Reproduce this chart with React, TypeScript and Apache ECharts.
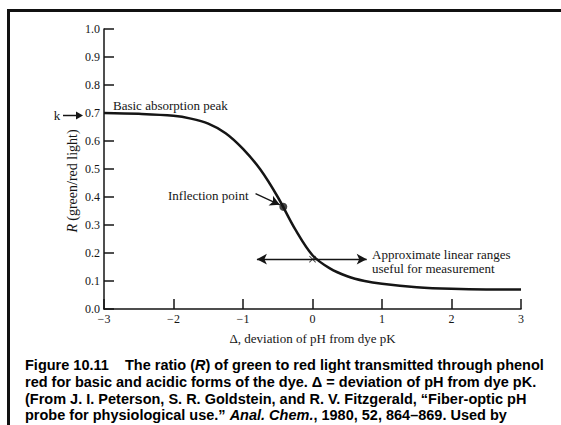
import React, { useEffect, useRef } from "react";
import * as echarts from "echarts";

// Δ (deviation of pH from dye pK) and R (green/red light)
const deltaValues = [-3, -2.5, -2, -1.75, -1.5, -1.25, -1, -0.75, -0.5, -0.25, 0, 0.25, 0.5, 0.75, 1, 1.5, 2, 2.5, 3];
const ratioValues = [0.7, 0.697, 0.69, 0.68, 0.662, 0.628, 0.572, 0.498, 0.4, 0.285, 0.192, 0.145, 0.117, 0.1, 0.09, 0.078, 0.072, 0.07, 0.07];

const inflectionPoint = [-0.42, 0.365];
const linearRangeStart = -0.8;
const linearRangeEnd = 0.78;
const linearRangeLevel = 0.178;
const linearRangeCenter = 0;

const xTicks = { min: -3, max: 3, interval: 1 };
const yTicks = { min: 0, max: 1, interval: 0.1 };

const captionLines = [
  "{b|Figure 10.11    The ratio (}{bi|R}{b|) of green to red light transmitted through phenol}",
  "{b|red for basic and acidic forms of the dye. Δ = deviation of pH from dye pK.}",
  "{b|(From J. I. Peterson, S. R. Goldstein, and R. V. Fitzgerald, “Fiber-optic pH}",
  "{b|probe for physiological use.” }{bi|Anal. Chem.}{b|, 1980, 52, 864–869. Used by}",
  "{b|permission.)}",
];
const captionY = [365, 382, 398.5, 415, 431.5];

const SERIF = "'Liberation Serif', 'Times New Roman', serif";
const SANS = "'Liberation Sans', Arial, sans-serif";

export default function App() {
  const ref = useRef<HTMLDivElement>(null);
  useEffect(() => {
    if (!ref.current) return;
    const chart = echarts.init(ref.current, undefined, { renderer: "svg" });
    const curve = deltaValues.map((d, i) => [d, ratioValues[i]]);
    const ink = "#151515";
    const capRich = {
      b: { fontFamily: SANS, fontWeight: "bold", fontSize: 14.5, fill: "#000" },
      bi: { fontFamily: SANS, fontWeight: "bold", fontStyle: "italic", fontSize: 14.5, fill: "#000" },
    };
    chart.setOption({
      animation: false,
      backgroundColor: "#fff",
      grid: { left: 104, right: 40, top: 29, bottom: 116 },
      xAxis: {
        type: "value",
        min: xTicks.min,
        max: xTicks.max,
        interval: xTicks.interval,
        name: "Δ, deviation of pH from dye pK",
        nameLocation: "middle",
        nameGap: 23,
        nameTextStyle: { fontFamily: SERIF, fontSize: 13, color: ink },
        axisLine: { onZero: false, lineStyle: { color: ink, width: 1.5 } },
        axisTick: { inside: true, length: 10, lineStyle: { color: ink, width: 1.5 } },
        axisLabel: {
          fontFamily: SERIF,
          fontSize: 12,
          color: ink,
          margin: 4,
          formatter: (v: number) => (v < 0 ? "−" + Math.abs(v) : String(v)),
        },
        splitLine: { show: false },
      },
      yAxis: {
        type: "value",
        min: yTicks.min,
        max: yTicks.max,
        interval: yTicks.interval,
        axisLine: { show: true, onZero: false, lineStyle: { color: ink, width: 1.5 } },
        axisTick: { show: true, inside: true, length: 10, lineStyle: { color: ink, width: 1.5 } },
        axisLabel: {
          fontFamily: SERIF,
          fontSize: 12,
          color: ink,
          margin: 4,
          formatter: (v: number) => v.toFixed(1),
        },
        splitLine: { show: false },
      },
      series: [
        {
          type: "line",
          data: curve,
          smooth: 0.35,
          showSymbol: false,
          lineStyle: { color: ink, width: 2.5 },
          silent: true,
        },
        {
          type: "scatter",
          data: [inflectionPoint],
          symbolSize: 8,
          itemStyle: { color: ink },
          silent: true,
        },
        {
          type: "scatter",
          data: [[linearRangeCenter, linearRangeLevel]],
          symbol: "path://M0,1 L1,0 L5,4 L9,0 L10,1 L6,5 L10,9 L9,10 L5,6 L1,10 L0,9 L4,5 Z",
          symbolSize: 7,
          itemStyle: { color: ink },
          silent: true,
        },
        {
          type: "line",
          data: [],
          silent: true,
          markLine: {
            silent: true,
            symbol: ["arrow", "arrow"],
            symbolSize: [8, 10],
            label: { show: false },
            lineStyle: { color: ink, width: 1.3, type: "solid" },
            data: [[{ coord: [linearRangeStart, linearRangeLevel] }, { coord: [linearRangeEnd, linearRangeLevel] }]],
          },
        },
        {
          type: "line",
          data: [],
          silent: true,
          markLine: {
            silent: true,
            symbol: ["none", "arrow"],
            symbolSize: [8, 10],
            label: { show: false },
            lineStyle: { color: ink, width: 1.3, type: "solid" },
            data: [[{ coord: [-0.82, 0.412] }, { coord: [-0.47, 0.372] }]],
          },
        },
      ],
      graphic: [
        { type: "line", shape: { x1: 7, y1: 10.5, x2: 561, y2: 10.5 }, style: { stroke: "#111", lineWidth: 3 } },
        { type: "line", shape: { x1: 8.5, y1: 9, x2: 8.5, y2: 425 }, style: { stroke: "#111", lineWidth: 3 } },
        {
          type: "text",
          x: 57,
          y: 115.5,
          style: { text: "k", fontFamily: SERIF, fontSize: 13, fill: ink, align: "center", verticalAlign: "middle" },
        },
        { type: "line", shape: { x1: 63, y1: 115.5, x2: 78, y2: 115.5 }, style: { stroke: ink, lineWidth: 1.5 } },
        { type: "polygon", shape: { points: [[76, 111.5], [83, 115.5], [76, 119.5]] }, style: { fill: ink } },
        {
          type: "text",
          x: 113,
          y: 105,
          style: { text: "Basic absorption peak", fontFamily: SERIF, fontSize: 13, fill: ink, verticalAlign: "middle" },
        },
        {
          type: "text",
          x: 168,
          y: 195,
          style: { text: "Inflection point", fontFamily: SERIF, fontSize: 13, fill: ink, verticalAlign: "middle" },
        },
        {
          type: "text",
          x: 372,
          y: 254,
          style: { text: "Approximate linear ranges", fontFamily: SERIF, fontSize: 13, fill: ink, verticalAlign: "middle" },
        },
        {
          type: "text",
          x: 372,
          y: 268,
          style: { text: "useful for measurement", fontFamily: SERIF, fontSize: 13, fill: ink, verticalAlign: "middle" },
        },
        {
          type: "text",
          x: 72,
          y: 181,
          rotation: Math.PI / 2,
          style: {
            text: "{i|R} {n|(green/red light)}",
            align: "center",
            verticalAlign: "middle",
            rich: {
              i: { fontFamily: SERIF, fontStyle: "italic", fontSize: 14, fill: ink },
              n: { fontFamily: SERIF, fontSize: 14, fill: ink },
            },
          },
        },
        ...captionLines.map((t, i) => ({
          type: "text",
          x: 25,
          y: captionY[i],
          style: { text: t, verticalAlign: "middle", rich: capRich },
        })),
      ],
    });
    return () => chart.dispose();
  }, []);
  return (
    <div
      ref={ref}
      style={{ position: "fixed", left: 0, top: 0, width: 561, height: 425, background: "#fff" }}
    />
  );
}
